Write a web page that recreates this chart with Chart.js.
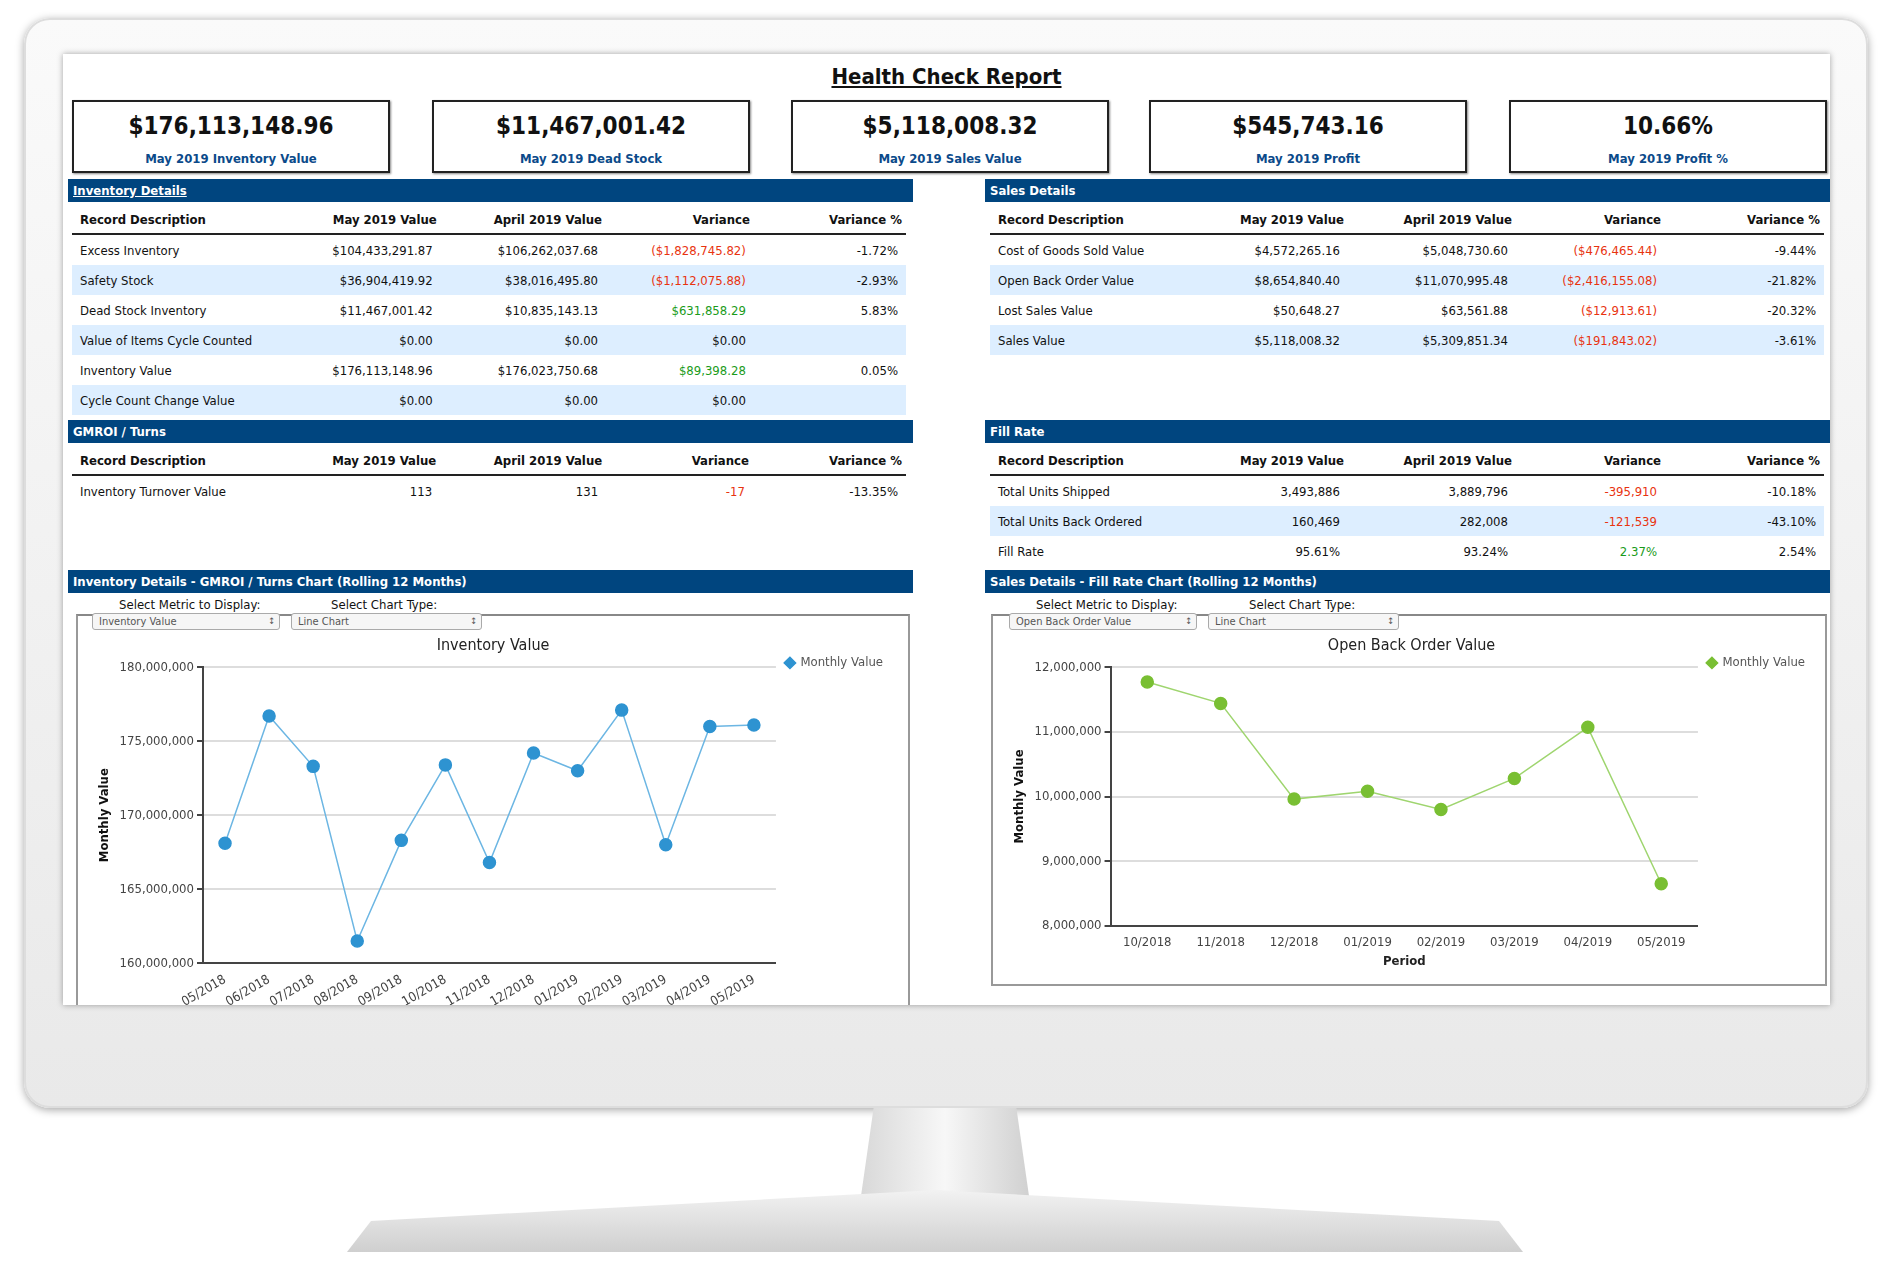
<!DOCTYPE html>
<html><head><meta charset="utf-8">
<script src="https://cdn.jsdelivr.net/npm/chart.js@4/dist/chart.umd.min.js"></script>
<style>
body{margin:0;width:1892px;height:1282px;background:#fff;position:relative;overflow:hidden;font-family:"DejaVu Sans Condensed","DejaVu Sans",sans-serif;}
.abs{position:absolute;}
#monitor{left:24px;top:18px;width:1844px;height:1090px;border-radius:26px;background:linear-gradient(#fafafa,#e9e9e9);box-shadow:0 2px 8px rgba(0,0,0,.35), inset 0 0 0 2px #ddd;}
#neck{left:860px;top:1108px;width:170px;height:95px;background:linear-gradient(90deg,#d8d8d8,#f7f7f7 50%,#d0d0d0);clip-path:polygon(8% 0,92% 0,100% 100%,0 100%);}
#base{left:335px;top:1190px;width:1200px;height:62px;background:linear-gradient(#f2f2f2,#cfcfcf);clip-path:polygon(3% 50%,50% 0,97% 50%,99% 100%,1% 100%);filter:drop-shadow(0 4px 4px #999);}
#screen{left:63px;top:54px;width:1767px;height:951px;background:#fff;overflow:hidden;box-shadow:0 0 6px rgba(0,0,0,.35);}
#title{left:0;width:1767px;top:10px;text-align:center;font-weight:bold;font-size:22px;text-decoration:underline;color:#111;}
.kpi{top:46px;width:314px;height:69px;border:2px solid #222;text-align:center;box-shadow:1px 1px 2px #888;}
.kpi .v{font-weight:bold;font-size:24px;margin-top:10px;color:#111;}
.kpi .l{font-weight:bold;font-size:13px;color:#0b4a8a;margin-top:11px;}
.band{height:23px;background:#00457f;color:#fff;font-weight:bold;font-size:13px;line-height:23px;padding-left:5px;box-sizing:border-box;}
table{border-collapse:collapse;font-size:13px;color:#111;}
th{font-weight:bold;text-align:right;height:28px;border-bottom:2px solid #222;padding:0 4px;white-space:nowrap;}
td{text-align:right;height:30px;padding:0 8px 0 4px;white-space:nowrap;}
th:first-child,td:first-child{text-align:left;padding-left:8px;}
tr.alt td{background:#ddeeff;}
.r{color:#e8330f}.g{color:#1a9b1a}
.panel{border:2px solid #999;border-top-color:#888;}
.lbl{font-size:13px;color:#111;}
.sel{height:15px;border:1px solid #aaa;border-radius:3px;background:#f6f6f6;font-size:11px;color:#555;line-height:15px;padding-left:6px;box-sizing:content-box;}
.sel:after{content:"\2195";position:absolute;right:4px;font-size:9px;}
</style></head><body>
<div id="monitor" class="abs"></div>
<div id="neck" class="abs"></div>
<div id="base" class="abs"></div>
<div id="screen" class="abs">
 <div id="title" class="abs">Health Check Report</div>
 <div class="kpi abs" style="left:9px"><div class="v">$176,113,148.96</div><div class="l">May 2019 Inventory Value</div></div>
 <div class="kpi abs" style="left:369px"><div class="v">$11,467,001.42</div><div class="l">May 2019 Dead Stock</div></div>
 <div class="kpi abs" style="left:728px"><div class="v">$5,118,008.32</div><div class="l">May 2019 Sales Value</div></div>
 <div class="kpi abs" style="left:1086px"><div class="v">$545,743.16</div><div class="l">May 2019 Profit</div></div>
 <div class="kpi abs" style="left:1446px"><div class="v">10.66%</div><div class="l">May 2019 Profit %</div></div>

 <div class="band abs" style="left:5px;top:125px;width:845px;"><u>Inventory Details</u></div>
 <div class="band abs" style="left:922px;top:125px;width:845px;">Sales Details</div>
 <table id="t1" class="abs" style="left:9px;top:151px;width:834px"></table>
 <table id="t2" class="abs" style="left:927px;top:151px;width:834px"></table>
 <div class="band abs" style="left:5px;top:366px;width:845px;">GMROI / Turns</div>
 <div class="band abs" style="left:922px;top:366px;width:845px;">Fill Rate</div>
 <table id="t3" class="abs" style="left:9px;top:392px;width:834px"></table>
 <table id="t4" class="abs" style="left:927px;top:392px;width:834px"></table>
 <div class="band abs" style="left:5px;top:516px;width:845px;">Inventory Details - GMROI / Turns Chart (Rolling 12 Months)</div>
 <div class="band abs" style="left:922px;top:516px;width:845px;">Sales Details - Fill Rate Chart (Rolling 12 Months)</div>

 <div class="panel abs" style="left:13px;top:560px;width:830px;height:420px;"></div>
 <div class="lbl abs" style="left:56px;top:543px">Select Metric to Display:</div>
 <div class="lbl abs" style="left:268px;top:543px">Select Chart Type:</div>
 <div class="sel abs" style="left:29px;top:559px;width:180px">Inventory Value</div>
 <div class="sel abs" style="left:228px;top:559px;width:183px">Line Chart</div>
 <div class="abs" style="left:20px;top:578px;width:815px;height:381px"><canvas id="c1"></canvas></div>

 <div class="panel abs" style="left:928px;top:560px;width:832px;height:368px;"></div>
 <div class="lbl abs" style="left:973px;top:543px">Select Metric to Display:</div>
 <div class="lbl abs" style="left:1186px;top:543px">Select Chart Type:</div>
 <div class="sel abs" style="left:946px;top:559px;width:180px">Open Back Order Value</div>
 <div class="sel abs" style="left:1145px;top:559px;width:183px">Line Chart</div>
 <div class="abs" style="left:935px;top:578px;width:822px;height:345px"><canvas id="c2"></canvas></div>
</div>
<script>
const invMonths=["05/2018","06/2018","07/2018","08/2018","09/2018","10/2018","11/2018","12/2018","01/2019","02/2019","03/2019","04/2019","05/2019"];
const invValues=[168100000,176700000,173300000,161500000,168300000,173400000,166800000,174200000,173000000,177100000,168000000,176000000,176100000];
const boMonths=["10/2018","11/2018","12/2018","01/2019","02/2019","03/2019","04/2019","05/2019"];
const boValues=[11770000,11440000,9960000,10080000,9800000,10280000,11070000,8650000];

const hdrL=["Record Description","May 2019 Value","April 2019 Value","Variance","Variance %"];
const invRows=[["Excess Inventory","$104,433,291.87","$106,262,037.68","($1,828,745.82)","-1.72%"],
["Safety Stock","$36,904,419.92","$38,016,495.80","($1,112,075.88)","-2.93%"],
["Dead Stock Inventory","$11,467,001.42","$10,835,143.13","$631,858.29","5.83%"],
["Value of Items Cycle Counted","$0.00","$0.00","$0.00",""],
["Inventory Value","$176,113,148.96","$176,023,750.68","$89,398.28","0.05%"],
["Cycle Count Change Value","$0.00","$0.00","$0.00",""]];
const salesRows=[["Cost of Goods Sold Value","$4,572,265.16","$5,048,730.60","($476,465.44)","-9.44%"],
["Open Back Order Value","$8,654,840.40","$11,070,995.48","($2,416,155.08)","-21.82%"],
["Lost Sales Value","$50,648.27","$63,561.88","($12,913.61)","-20.32%"],
["Sales Value","$5,118,008.32","$5,309,851.34","($191,843.02)","-3.61%"]];
const gmroiRows=[["Inventory Turnover Value","113","131","-17","-13.35%"]];
const fillRows=[["Total Units Shipped","3,493,886","3,889,796","-395,910","-10.18%"],
["Total Units Back Ordered","160,469","282,008","-121,539","-43.10%"],
["Fill Rate","95.61%","93.24%","2.37%","2.54%"]];

function build(id,rows,widths){
 const t=document.getElementById(id);
 let h='<colgroup>'+widths.map(w=>'<col style="width:'+w+'px">').join('')+'</colgroup><tr>'+hdrL.map(x=>'<th>'+x+'</th>').join('')+'</tr>';
 rows.forEach((r,i)=>{h+='<tr class="'+(i%2?'alt':'')+'">'+r.map((c,j)=>{let cls='';if(j==3){cls=(c.startsWith('(')||c.startsWith('-'))?'r':(c!=='$0.00'?'g':'');}return '<td class="'+cls+'">'+c+'</td>';}).join('')+'</tr>';});
 t.innerHTML=h;
}
build('t1',invRows,[260,100,168,150,156]);
build('t2',salesRows,[220,138,168,149,159]);
build('t3',gmroiRows,[260,100,168,150,156]);
build('t4',fillRows,[220,138,168,149,159]);

const F='"DejaVu Sans Condensed","DejaVu Sans",sans-serif';
function mk(id,labels,data,line,pt,min,max,step,title,rot,xTitle,pad){
 new Chart(document.getElementById(id),{type:'line',
 data:{labels,datasets:[{label:'Monthly Value',data,borderColor:line,backgroundColor:pt,pointBackgroundColor:pt,pointBorderColor:pt,pointRadius:6,borderWidth:1.5,tension:0}]},
 options:{responsive:true,maintainAspectRatio:false,animation:false,
  layout:{padding:pad},
  plugins:{title:{display:true,text:title,font:{family:F,size:16,weight:'normal'},color:'#222',padding:{top:4,bottom:12}},
   legend:{position:'right',align:'start',title:{display:true,text:' ',font:{size:12},padding:{top:0,bottom:0}},
    labels:{usePointStyle:true,pointStyle:'rectRot',boxWidth:8,boxHeight:8,font:{family:F,size:13},color:'#555'}}},
  scales:{x:{offset:true,grid:{display:false,drawTicks:true,tickLength:6,tickColor:'#444'},border:{color:'#444',width:2},
    ticks:{font:{family:F,size:13},color:'#444',maxRotation:rot,minRotation:rot},
    title:{display:!!xTitle,text:xTitle,font:{family:F,size:13,weight:'bold'},color:'#222',padding:0}},
   y:{min,max,ticks:{stepSize:step,font:{family:F,size:13},color:'#444',callback:v=>v.toLocaleString('en-US')},
    grid:{color:'#ddd',lineWidth:2,tickColor:'#444',tickLength:6},border:{color:'#444',width:2},
    title:{display:true,text:'Monthly Value',font:{family:F,size:13,weight:'bold'},color:'#111'}}}}});
}
mk('c1',invMonths,invValues,'#6cb6e3','#2e93d1',160000000,180000000,5000000,'Inventory Value',30,'',{left:10,right:5,top:0,bottom:0});
mk('c2',boMonths,boValues,'#9fd56f','#79bf33',8000000,12000000,1000000,'Open Back Order Value',0,'Period',{left:10,right:5,top:0,bottom:8});
</script>
</body></html>
